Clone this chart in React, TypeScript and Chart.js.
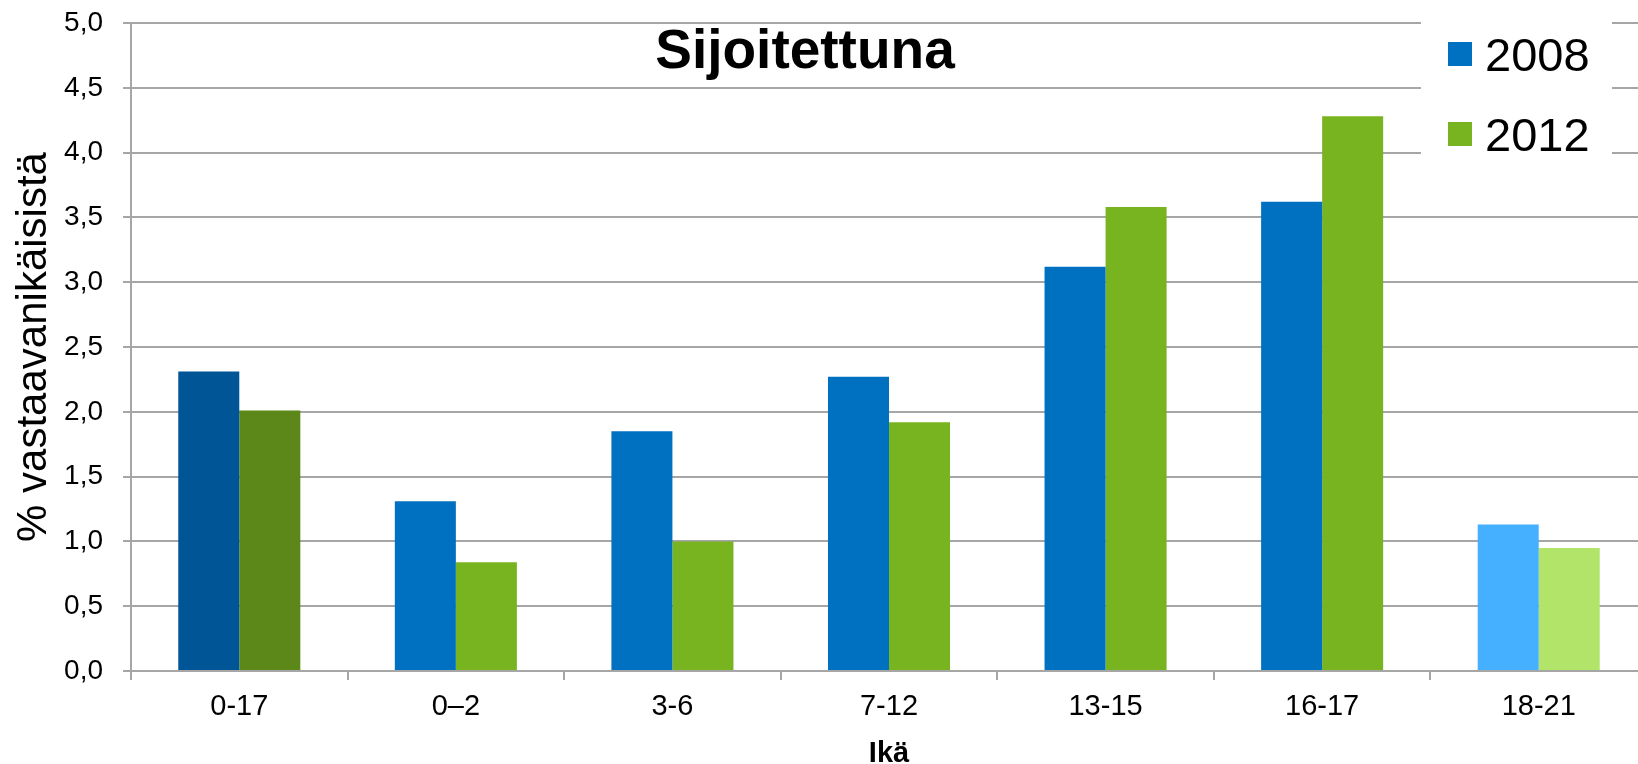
import React, { useEffect, useRef } from 'react';
import { Chart, registerables } from 'chart.js';

Chart.register(...registerables);

const categories = ['0-17', '0–2', '3-6', '7-12', '13-15', '16-17', '18-21'];
const seriesNames = ['2008', '2012'];
const values2008 = [2.31, 1.31, 1.85, 2.27, 3.12, 3.62, 1.13];
const values2012 = [2.01, 0.84, 1.0, 1.92, 3.58, 4.28, 0.95];
const yMin = 0;
const yMax = 5;
const yStep = 0.5;
const chartTitle = 'Sijoitettuna';
const yTitle = '% vastaavanikäisistä';
const xTitle = 'Ikä';

const colors2008 = ['#005596', '#0070C0', '#0070C0', '#0070C0', '#0070C0', '#0070C0', '#45B0FF'];
const colors2012 = ['#5B8819', '#78B41F', '#78B41F', '#78B41F', '#78B41F', '#78B41F', '#B2E46A'];
const legendColors = ['#0070C0', '#78B41F'];

const FONT = "'Liberation Sans', Arial, Helvetica, sans-serif";
const GRID = '#A6A6A6';

const overlayPlugin = {
  id: 'overlay',
  afterDraw(chart: any) {
    const { ctx, chartArea } = chart;
    ctx.save();
    // title
    ctx.fillStyle = '#000';
    ctx.font = `bold 55px ${FONT}`;
    ctx.textAlign = 'center';
    ctx.textBaseline = 'alphabetic';
    ctx.fillText(chartTitle, chartArea.left + 674, 68);

    // legend
    ctx.fillStyle = '#fff';
    ctx.fillRect(1421, 8, 191, 162);
    ctx.font = `47px ${FONT}`;
    ctx.textAlign = 'left';
    seriesNames.forEach((name, i) => {
      const y = 42 + i * 80;
      ctx.fillStyle = legendColors[i];
      ctx.fillRect(1448, y, 24, 24);
      ctx.fillStyle = '#000';
      ctx.fillText(name, 1485, y + 29);
    });

    // x title
    ctx.font = `bold 29px ${FONT}`;
    ctx.textAlign = 'center';
    ctx.fillText(xTitle, (chartArea.left + chartArea.right) / 2, 762);

    // y title
    ctx.translate(46, (chartArea.top + chartArea.bottom) / 2);
    ctx.rotate(-Math.PI / 2);
    ctx.font = `42px ${FONT}`;
    ctx.textAlign = 'center';
    ctx.fillText(yTitle, 0, 0);
    ctx.restore();
  },
};

export default function App() {
  const ref = useRef<HTMLCanvasElement | null>(null);

  useEffect(() => {
    if (!ref.current) return;
    const chart = new Chart(ref.current, {
      type: 'bar',
      data: {
        labels: categories,
        datasets: [
          {
            label: seriesNames[0],
            data: values2008,
            backgroundColor: colors2008,
            borderWidth: 0,
            categoryPercentage: 0.5635,
            barPercentage: 1,
          },
          {
            label: seriesNames[1],
            data: values2012,
            backgroundColor: colors2012,
            borderWidth: 0,
            categoryPercentage: 0.5635,
            barPercentage: 1,
          },
        ],
      },
      options: {
        responsive: false,
        animation: false,
        layout: { padding: { top: 23, right: 3, left: 0, bottom: 0 } },
        plugins: {
          legend: { display: false },
          title: { display: false },
          tooltip: { enabled: false },
        },
        scales: {
          x: {
            afterFit: (s: any) => {
              s.height = 93;
            },
            grid: {
              drawOnChartArea: false,
              drawTicks: true,
              tickLength: 9,
              color: GRID,
              lineWidth: 2,
              offset: true,
            },
            border: { color: GRID, width: 2 },
            ticks: {
              color: '#000',
              font: { family: FONT, size: 29 },
              padding: 10,
              maxRotation: 0,
              autoSkip: false,
            },
          },
          y: {
            min: yMin,
            max: yMax,
            afterFit: (s: any) => {
              s.width = 131;
              s.paddingTop = 10;
              s.paddingBottom = 10;
            },
            grid: {
              color: GRID,
              lineWidth: 2,
              drawTicks: true,
              tickLength: 8,
            },
            border: { color: GRID, width: 2 },
            ticks: {
              stepSize: yStep,
              color: '#000',
              font: { family: FONT, size: 28 },
              padding: 20,
              callback: (v: any) => Number(v).toFixed(1).replace('.', ','),
            },
          },
        },
      },
      plugins: [overlayPlugin],
    });
    return () => chart.destroy();
  }, []);

  return (
    <div
      style={{
        position: 'absolute',
        left: 0,
        top: 0,
        width: 1638,
        height: 764,
        overflow: 'hidden',
        background: '#fff',
      }}
    >
      <canvas ref={ref} width={1650} height={764} style={{ width: 1650, height: 764, display: 'block' }} />
    </div>
  );
}
